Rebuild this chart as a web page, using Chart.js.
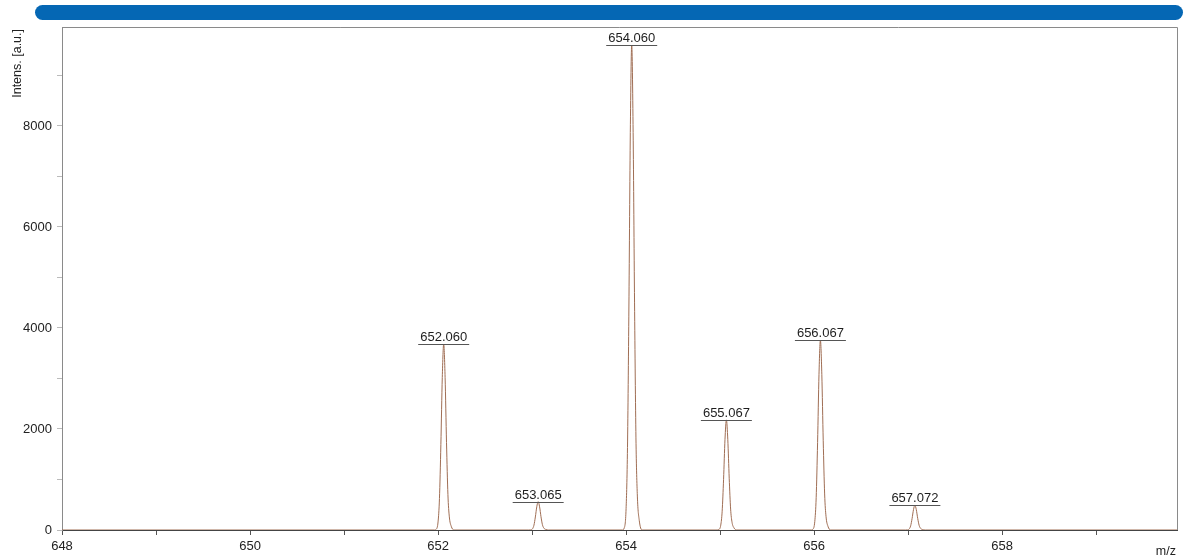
<!DOCTYPE html>
<html>
<head>
<meta charset="utf-8">
<style>
  html, body { margin: 0; padding: 0; background: #ffffff; }
  canvas { display: block; }
</style>
<script src="https://cdn.jsdelivr.net/npm/chart.js@4.4.1/dist/chart.umd.min.js"></script>
</head>
<body>
<canvas id="spectrum" width="1190" height="557"></canvas>
<script>
// Profile spectrum: m/z positions and intensities
const mzValues = [
  648.00,
  651.96, 651.98, 652.00, 652.015, 652.03, 652.045, 652.06, 652.075, 652.09, 652.105, 652.12, 652.14, 652.17,
  652.965, 652.985, 653.005, 653.02, 653.035, 653.05, 653.065, 653.08, 653.095, 653.11, 653.125, 653.145, 653.175,
  653.96, 653.98, 654.00, 654.015, 654.03, 654.045, 654.06, 654.075, 654.09, 654.105, 654.12, 654.14, 654.17,
  654.967, 654.987, 655.007, 655.022, 655.037, 655.052, 655.067, 655.082, 655.097, 655.112, 655.127, 655.147, 655.177,
  655.967, 655.987, 656.007, 656.022, 656.037, 656.052, 656.067, 656.082, 656.097, 656.112, 656.127, 656.147, 656.177,
  656.972, 656.992, 657.012, 657.027, 657.042, 657.057, 657.072, 657.087, 657.102, 657.117, 657.132, 657.152, 657.182,
  659.86
];
const intensityValues = [
  0,
  0, 15, 160, 625, 1690, 3020, 3680, 3020, 1730, 700, 260, 75, 0,
  0, 2, 25, 95, 258, 459, 560, 459, 263, 106, 39, 11, 0,
  0, 38, 422, 1632, 4416, 7872, 9600, 7872, 4512, 1824, 672, 192, 0,
  0, 9, 96, 371, 1003, 1788, 2180, 1788, 1025, 414, 153, 44, 0,
  0, 15, 165, 639, 1730, 3083, 3760, 3083, 1767, 714, 263, 75, 0,
  0, 2, 22, 83, 225, 402, 490, 402, 230, 93, 34, 10, 0,
  0
];

// Centroid annotations
const peakMz = [652.060, 653.065, 654.060, 655.067, 656.067, 657.072];
const peakIntensity = [3680, 560, 9600, 2180, 3760, 490];

// Axis ranges, tick positions and labelled ticks
const mzRange = [648, 659.86];
const intensityRange = [0, 9960];
const mzTicks = [648, 649, 650, 651, 652, 653, 654, 655, 656, 657, 658, 659];
const mzTickLabels = [648, 650, 652, 654, 656, 658];
const intensityTicks = [0, 1000, 2000, 3000, 4000, 5000, 6000, 7000, 8000, 9000];
const intensityTickLabels = [0, 2000, 4000, 6000, 8000];

const FONT = '"Liberation Sans", Arial, sans-serif';

const points = mzValues.map((m, i) => ({ x: m, y: intensityValues[i] }));

const decorations = {
  id: 'decorations',
  beforeDraw(chart) {
    const ctx = chart.ctx;
    ctx.save();
    ctx.fillStyle = '#ffffff';
    ctx.fillRect(0, 0, chart.width, chart.height);
    // header bar
    ctx.fillStyle = '#0567b4';
    ctx.beginPath();
    ctx.roundRect(35, 5, 1148, 15, 7.5);
    ctx.fill();
    ctx.restore();
  },
  afterDraw(chart) {
    const ctx = chart.ctx;
    const a = chart.chartArea;
    const xs = chart.scales.x, ys = chart.scales.y;
    ctx.save();
    // frame top/right
    ctx.strokeStyle = '#8a8a8a';
    ctx.lineWidth = 1;
    ctx.beginPath();
    ctx.moveTo(a.left, a.top + 0.5);
    ctx.lineTo(a.right + 0.5, a.top + 0.5);
    ctx.lineTo(a.right + 0.5, a.bottom);
    ctx.stroke();

    // peak labels
    ctx.font = '13px ' + FONT;
    ctx.textAlign = 'center';
    ctx.textBaseline = 'alphabetic';
    peakMz.forEach((m, i) => {
      const px = xs.getPixelForValue(m);
      const py = ys.getPixelForValue(peakIntensity[i]);
      const txt = m.toFixed(3);
      const w = ctx.measureText(txt).width;
      ctx.fillStyle = '#1e1e1e';
      ctx.fillText(txt, px, py - 3);
      ctx.strokeStyle = '#555';
      ctx.beginPath();
      ctx.moveTo(px - w / 2 - 2, Math.round(py) + 0.5);
      ctx.lineTo(px + w / 2 + 2, Math.round(py) + 0.5);
      ctx.stroke();
    });

    // axis titles
    ctx.fillStyle = '#222';
    ctx.font = '12.5px ' + FONT;
    ctx.save();
    ctx.translate(21, 29);
    ctx.rotate(-Math.PI / 2);
    ctx.textAlign = 'right';
    ctx.textBaseline = 'alphabetic';
    ctx.fillText('Intens. [a.u.]', 0, 0);
    ctx.restore();
    ctx.textAlign = 'right';
    ctx.textBaseline = 'alphabetic';
    ctx.fillText('m/z', 1176, 555);
    ctx.restore();
  }
};

new Chart(document.getElementById('spectrum'), {
  type: 'line',
  data: {
    datasets: [{
      data: points,
      borderColor: 'rgb(160, 110, 84)',
      borderWidth: 1,
      pointRadius: 0,
      fill: false,
      cubicInterpolationMode: 'monotone'
    }]
  },
  options: {
    responsive: false,
    devicePixelRatio: 1,
    animation: false,
    layout: { padding: { top: 27, right: 13, left: 0, bottom: 0 } },
    plugins: { legend: { display: false }, tooltip: { enabled: false } },
    scales: {
      x: {
        type: 'linear',
        min: mzRange[0],
        max: mzRange[1],
        afterBuildTicks(scale) { scale.ticks = mzTicks.map(v => ({ value: v })); },
        afterFit(scale) { scale.height = 27; },
        border: { color: '#444', width: 1 },
        grid: { drawOnChartArea: false, drawTicks: true, tickLength: 5, color: '#555' },
        ticks: {
          autoSkip: false,
          maxRotation: 0,
          padding: 4,
          color: '#222',
          font: { size: 13, family: FONT },
          callback: v => mzTickLabels.includes(v) ? String(v) : ''
        }
      },
      y: {
        type: 'linear',
        min: intensityRange[0],
        max: intensityRange[1],
        afterBuildTicks(scale) { scale.ticks = intensityTicks.map(v => ({ value: v })); },
        afterFit(scale) { scale.width = 62; },
        border: { color: '#8a8a8a', width: 1 },
        grid: { drawOnChartArea: false, drawTicks: true, tickLength: 5, color: '#bbb' },
        ticks: {
          autoSkip: false,
          padding: 5,
          color: '#222',
          font: { size: 13, family: FONT },
          callback: v => intensityTickLabels.includes(v) ? String(v) : ''
        }
      }
    }
  },
  plugins: [decorations]
});
</script>
</body>
</html>
